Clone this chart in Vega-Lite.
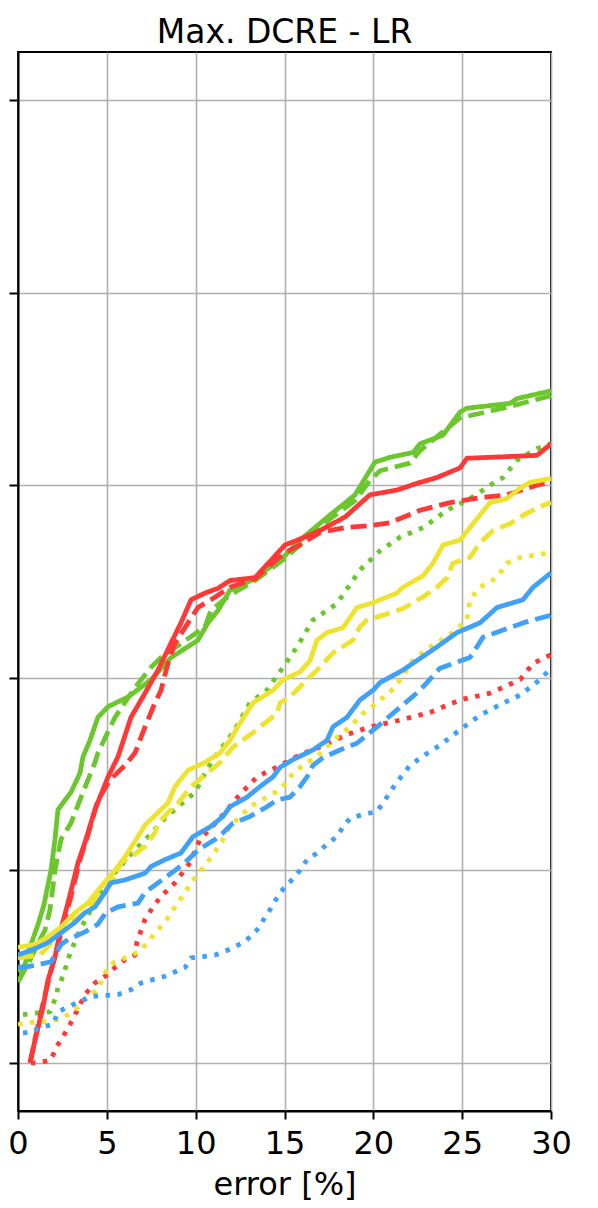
{
"$schema": "https://vega.github.io/schema/vega-lite/v6.json",
"autosize": {"type": "none"},
"width": 533,
"height": 1059,
"padding": {"left": 18, "top": 52, "right": 47, "bottom": 97},
"background": "white",
"title": {"text": "Max. DCRE - LR", "fontSize": 33, "font": "DejaVu Sans", "fontWeight": "normal", "color": "black", "anchor": "middle", "baseline": "alphabetic", "offset": -24},
"config": {
  "view": {"stroke": "black", "strokeWidth": 2},
  "axis": {"domainColor": "black", "domainWidth": 2, "tickColor": "black", "tickWidth": 2, "gridColor": "#b0b0b0", "gridWidth": 1.6, "gridOpacity": 1, "labelFont": "DejaVu Sans", "titleFont": "DejaVu Sans", "labelColor": "black", "titleColor": "black"}
},
"datasets": {
  "curves": [
{"method":"M1","style":"solid","error":0,"fraction":0.095},{"method":"M1","style":"solid","error":0.39,"fraction":0.102},{"method":"M1","style":"solid","error":0.73,"fraction":0.123},{"method":"M1","style":"solid","error":1.13,"fraction":0.144},{"method":"M1","style":"solid","error":1.46,"fraction":0.164},{"method":"M1","style":"solid","error":1.69,"fraction":0.185},{"method":"M1","style":"solid","error":1.86,"fraction":0.2},{"method":"M1","style":"solid","error":2.08,"fraction":0.232},{"method":"M1","style":"solid","error":2.25,"fraction":0.263},{"method":"M1","style":"solid","error":2.65,"fraction":0.273},{"method":"M1","style":"solid","error":2.98,"fraction":0.281},{"method":"M1","style":"solid","error":3.49,"fraction":0.301},{"method":"M1","style":"solid","error":3.66,"fraction":0.318},{"method":"M1","style":"solid","error":4.05,"fraction":0.335},{"method":"M1","style":"solid","error":4.5,"fraction":0.359},{"method":"M1","style":"solid","error":5.07,"fraction":0.37},{"method":"M1","style":"solid","error":6.19,"fraction":0.38},{"method":"M1","style":"solid","error":7.49,"fraction":0.398},{"method":"M1","style":"solid","error":8.61,"fraction":0.421},{"method":"M1","style":"solid","error":10.13,"fraction":0.439},{"method":"M1","style":"solid","error":10.69,"fraction":0.457},{"method":"M1","style":"solid","error":11.26,"fraction":0.47},{"method":"M1","style":"solid","error":11.93,"fraction":0.491},{"method":"M1","style":"solid","error":13.34,"fraction":0.503},{"method":"M1","style":"solid","error":15.03,"fraction":0.527},{"method":"M1","style":"solid","error":15.87,"fraction":0.543},{"method":"M1","style":"solid","error":17.56,"fraction":0.569},{"method":"M1","style":"solid","error":18.97,"fraction":0.59},{"method":"M1","style":"solid","error":20.09,"fraction":0.624},{"method":"M1","style":"solid","error":20.94,"fraction":0.629},{"method":"M1","style":"solid","error":22.23,"fraction":0.634},{"method":"M1","style":"solid","error":22.63,"fraction":0.643},{"method":"M1","style":"solid","error":23.92,"fraction":0.652},{"method":"M1","style":"solid","error":24.88,"fraction":0.676},{"method":"M1","style":"solid","error":25.27,"fraction":0.68},{"method":"M1","style":"solid","error":27.69,"fraction":0.685},{"method":"M1","style":"solid","error":28.09,"fraction":0.69},{"method":"M1","style":"solid","error":30,"fraction":0.698},
{"method":"M1","style":"dashed","error":0,"fraction":0.084},{"method":"M1","style":"dashed","error":0.68,"fraction":0.107},{"method":"M1","style":"dashed","error":1.24,"fraction":0.128},{"method":"M1","style":"dashed","error":1.52,"fraction":0.138},{"method":"M1","style":"dashed","error":1.8,"fraction":0.159},{"method":"M1","style":"dashed","error":2.08,"fraction":0.2},{"method":"M1","style":"dashed","error":2.42,"fraction":0.232},{"method":"M1","style":"dashed","error":2.98,"fraction":0.249},{"method":"M1","style":"dashed","error":3.55,"fraction":0.276},{"method":"M1","style":"dashed","error":4.33,"fraction":0.312},{"method":"M1","style":"dashed","error":4.5,"fraction":0.322},{"method":"M1","style":"dashed","error":5.46,"fraction":0.359},{"method":"M1","style":"dashed","error":6.59,"fraction":0.39},{"method":"M1","style":"dashed","error":7.49,"fraction":0.411},{"method":"M1","style":"dashed","error":8.05,"fraction":0.421},{"method":"M1","style":"dashed","error":10.53,"fraction":0.453},{"method":"M1","style":"dashed","error":10.86,"fraction":0.47},{"method":"M1","style":"dashed","error":11.93,"fraction":0.486},{"method":"M1","style":"dashed","error":13.34,"fraction":0.501},{"method":"M1","style":"dashed","error":15.03,"fraction":0.524},{"method":"M1","style":"dashed","error":15.87,"fraction":0.538},{"method":"M1","style":"dashed","error":17.56,"fraction":0.565},{"method":"M1","style":"dashed","error":18.97,"fraction":0.584},{"method":"M1","style":"dashed","error":19.81,"fraction":0.605},{"method":"M1","style":"dashed","error":20.38,"fraction":0.615},{"method":"M1","style":"dashed","error":22.06,"fraction":0.623},{"method":"M1","style":"dashed","error":22.63,"fraction":0.636},{"method":"M1","style":"dashed","error":24.88,"fraction":0.67},{"method":"M1","style":"dashed","error":27.3,"fraction":0.68},{"method":"M1","style":"dashed","error":30,"fraction":0.693},
{"method":"M1","style":"dotted","error":0.28,"fraction":0.05},{"method":"M1","style":"dotted","error":1.13,"fraction":0.052},{"method":"M1","style":"dotted","error":1.8,"fraction":0.053},{"method":"M1","style":"dotted","error":2.08,"fraction":0.066},{"method":"M1","style":"dotted","error":2.25,"fraction":0.078},{"method":"M1","style":"dotted","error":2.53,"fraction":0.09},{"method":"M1","style":"dotted","error":2.93,"fraction":0.114},{"method":"M1","style":"dotted","error":3.49,"fraction":0.138},{"method":"M1","style":"dotted","error":4.5,"fraction":0.173},{"method":"M1","style":"dotted","error":5.23,"fraction":0.193},{"method":"M1","style":"dotted","error":6.47,"fraction":0.219},{"method":"M1","style":"dotted","error":7.43,"fraction":0.237},{"method":"M1","style":"dotted","error":8.27,"fraction":0.254},{"method":"M1","style":"dotted","error":9.01,"fraction":0.266},{"method":"M1","style":"dotted","error":9.96,"fraction":0.281},{"method":"M1","style":"dotted","error":10.53,"fraction":0.301},{"method":"M1","style":"dotted","error":10.98,"fraction":0.315},{"method":"M1","style":"dotted","error":12.1,"fraction":0.343},{"method":"M1","style":"dotted","error":13.06,"fraction":0.374},{"method":"M1","style":"dotted","error":14.01,"fraction":0.387},{"method":"M1","style":"dotted","error":14.92,"fraction":0.411},{"method":"M1","style":"dotted","error":15.7,"fraction":0.432},{"method":"M1","style":"dotted","error":16.6,"fraction":0.46},{"method":"M1","style":"dotted","error":17.95,"fraction":0.477},{"method":"M1","style":"dotted","error":19.25,"fraction":0.512},{"method":"M1","style":"dotted","error":20.38,"fraction":0.532},{"method":"M1","style":"dotted","error":21.5,"fraction":0.546},{"method":"M1","style":"dotted","error":22.8,"fraction":0.556},{"method":"M1","style":"dotted","error":24.15,"fraction":0.574},{"method":"M1","style":"dotted","error":25.44,"fraction":0.586},{"method":"M1","style":"dotted","error":26.57,"fraction":0.6},{"method":"M1","style":"dotted","error":27.3,"fraction":0.608},{"method":"M1","style":"dotted","error":28.09,"fraction":0.626},{"method":"M1","style":"dotted","error":29.21,"fraction":0.638},{"method":"M1","style":"dotted","error":30,"fraction":0.643},
{"method":"M2","style":"solid","error":0.68,"fraction":0.0},{"method":"M2","style":"solid","error":0.96,"fraction":0.024},{"method":"M2","style":"solid","error":1.41,"fraction":0.058},{"method":"M2","style":"solid","error":1.69,"fraction":0.086},{"method":"M2","style":"solid","error":2.08,"fraction":0.11},{"method":"M2","style":"solid","error":2.36,"fraction":0.135},{"method":"M2","style":"solid","error":2.81,"fraction":0.166},{"method":"M2","style":"solid","error":3.38,"fraction":0.208},{"method":"M2","style":"solid","error":3.77,"fraction":0.229},{"method":"M2","style":"solid","error":4.33,"fraction":0.263},{"method":"M2","style":"solid","error":5.07,"fraction":0.297},{"method":"M2","style":"solid","error":5.63,"fraction":0.318},{"method":"M2","style":"solid","error":6.36,"fraction":0.359},{"method":"M2","style":"solid","error":7.15,"fraction":0.384},{"method":"M2","style":"solid","error":7.88,"fraction":0.408},{"method":"M2","style":"solid","error":8.61,"fraction":0.436},{"method":"M2","style":"solid","error":9.17,"fraction":0.457},{"method":"M2","style":"solid","error":9.74,"fraction":0.481},{"method":"M2","style":"solid","error":10.53,"fraction":0.488},{"method":"M2","style":"solid","error":11.26,"fraction":0.493},{"method":"M2","style":"solid","error":11.93,"fraction":0.501},{"method":"M2","style":"solid","error":13.34,"fraction":0.504},{"method":"M2","style":"solid","error":15.03,"fraction":0.538},{"method":"M2","style":"solid","error":15.87,"fraction":0.544},{"method":"M2","style":"solid","error":17.0,"fraction":0.553},{"method":"M2","style":"solid","error":18.41,"fraction":0.567},{"method":"M2","style":"solid","error":19.81,"fraction":0.59},{"method":"M2","style":"solid","error":21.33,"fraction":0.595},{"method":"M2","style":"solid","error":22.46,"fraction":0.602},{"method":"M2","style":"solid","error":23.58,"fraction":0.608},{"method":"M2","style":"solid","error":24.88,"fraction":0.618},{"method":"M2","style":"solid","error":25.27,"fraction":0.628},{"method":"M2","style":"solid","error":29.21,"fraction":0.631},{"method":"M2","style":"solid","error":30,"fraction":0.643},
{"method":"M2","style":"dashed","error":0.68,"fraction":0.0},{"method":"M2","style":"dashed","error":1.01,"fraction":0.029},{"method":"M2","style":"dashed","error":1.46,"fraction":0.066},{"method":"M2","style":"dashed","error":1.8,"fraction":0.092},{"method":"M2","style":"dashed","error":2.2,"fraction":0.118},{"method":"M2","style":"dashed","error":2.53,"fraction":0.144},{"method":"M2","style":"dashed","error":2.93,"fraction":0.169},{"method":"M2","style":"dashed","error":3.49,"fraction":0.211},{"method":"M2","style":"dashed","error":3.94,"fraction":0.237},{"method":"M2","style":"dashed","error":4.5,"fraction":0.273},{"method":"M2","style":"dashed","error":5.18,"fraction":0.294},{"method":"M2","style":"dashed","error":6.02,"fraction":0.309},{"method":"M2","style":"dashed","error":6.59,"fraction":0.322},{"method":"M2","style":"dashed","error":7.15,"fraction":0.349},{"method":"M2","style":"dashed","error":7.71,"fraction":0.374},{"method":"M2","style":"dashed","error":8.05,"fraction":0.387},{"method":"M2","style":"dashed","error":8.44,"fraction":0.415},{"method":"M2","style":"dashed","error":8.84,"fraction":0.436},{"method":"M2","style":"dashed","error":9.57,"fraction":0.457},{"method":"M2","style":"dashed","error":10.13,"fraction":0.473},{"method":"M2","style":"dashed","error":10.86,"fraction":0.481},{"method":"M2","style":"dashed","error":11.93,"fraction":0.494},{"method":"M2","style":"dashed","error":13.34,"fraction":0.503},{"method":"M2","style":"dashed","error":15.03,"fraction":0.53},{"method":"M2","style":"dashed","error":15.87,"fraction":0.538},{"method":"M2","style":"dashed","error":17.0,"fraction":0.551},{"method":"M2","style":"dashed","error":18.41,"fraction":0.556},{"method":"M2","style":"dashed","error":19.81,"fraction":0.558},{"method":"M2","style":"dashed","error":20.94,"fraction":0.561},{"method":"M2","style":"dashed","error":22.63,"fraction":0.574},{"method":"M2","style":"dashed","error":24.32,"fraction":0.582},{"method":"M2","style":"dashed","error":26.0,"fraction":0.587},{"method":"M2","style":"dashed","error":27.52,"fraction":0.59},{"method":"M2","style":"dashed","error":29.21,"fraction":0.6},{"method":"M2","style":"dashed","error":30,"fraction":0.603},
{"method":"M2","style":"dotted","error":0.73,"fraction":0.0},{"method":"M2","style":"dotted","error":1.13,"fraction":0.0},{"method":"M2","style":"dotted","error":1.86,"fraction":0.003},{"method":"M2","style":"dotted","error":2.14,"fraction":0.016},{"method":"M2","style":"dotted","error":2.53,"fraction":0.027},{"method":"M2","style":"dotted","error":2.93,"fraction":0.04},{"method":"M2","style":"dotted","error":3.21,"fraction":0.05},{"method":"M2","style":"dotted","error":3.77,"fraction":0.071},{"method":"M2","style":"dotted","error":4.33,"fraction":0.083},{"method":"M2","style":"dotted","error":4.9,"fraction":0.09},{"method":"M2","style":"dotted","error":5.46,"fraction":0.099},{"method":"M2","style":"dotted","error":6.02,"fraction":0.107},{"method":"M2","style":"dotted","error":6.59,"fraction":0.112},{"method":"M2","style":"dotted","error":6.7,"fraction":0.126},{"method":"M2","style":"dotted","error":7.15,"fraction":0.149},{"method":"M2","style":"dotted","error":7.6,"fraction":0.162},{"method":"M2","style":"dotted","error":8.05,"fraction":0.173},{"method":"M2","style":"dotted","error":8.84,"fraction":0.187},{"method":"M2","style":"dotted","error":9.68,"fraction":0.208},{"method":"M2","style":"dotted","error":10.24,"fraction":0.232},{"method":"M2","style":"dotted","error":11.37,"fraction":0.254},{"method":"M2","style":"dotted","error":12.5,"fraction":0.279},{"method":"M2","style":"dotted","error":13.45,"fraction":0.297},{"method":"M2","style":"dotted","error":14.75,"fraction":0.309},{"method":"M2","style":"dotted","error":15.87,"fraction":0.32},{"method":"M2","style":"dotted","error":17.0,"fraction":0.328},{"method":"M2","style":"dotted","error":18.52,"fraction":0.341},{"method":"M2","style":"dotted","error":19.81,"fraction":0.349},{"method":"M2","style":"dotted","error":21.5,"fraction":0.356},{"method":"M2","style":"dotted","error":23.19,"fraction":0.364},{"method":"M2","style":"dotted","error":24.88,"fraction":0.377},{"method":"M2","style":"dotted","error":26.57,"fraction":0.384},{"method":"M2","style":"dotted","error":28.26,"fraction":0.398},{"method":"M2","style":"dotted","error":28.99,"fraction":0.415},{"method":"M2","style":"dotted","error":30,"fraction":0.424},
{"method":"M3","style":"solid","error":0,"fraction":0.12},{"method":"M3","style":"solid","error":0.96,"fraction":0.123},{"method":"M3","style":"solid","error":1.69,"fraction":0.131},{"method":"M3","style":"solid","error":2.42,"fraction":0.141},{"method":"M3","style":"solid","error":3.21,"fraction":0.156},{"method":"M3","style":"solid","error":3.94,"fraction":0.166},{"method":"M3","style":"solid","error":4.67,"fraction":0.183},{"method":"M3","style":"solid","error":5.46,"fraction":0.2},{"method":"M3","style":"solid","error":6.02,"fraction":0.214},{"method":"M3","style":"solid","error":6.75,"fraction":0.235},{"method":"M3","style":"solid","error":7.15,"fraction":0.247},{"method":"M3","style":"solid","error":7.88,"fraction":0.26},{"method":"M3","style":"solid","error":8.44,"fraction":0.27},{"method":"M3","style":"solid","error":8.84,"fraction":0.287},{"method":"M3","style":"solid","error":9.57,"fraction":0.304},{"method":"M3","style":"solid","error":10.53,"fraction":0.312},{"method":"M3","style":"solid","error":11.37,"fraction":0.322},{"method":"M3","style":"solid","error":11.93,"fraction":0.335},{"method":"M3","style":"solid","error":12.5,"fraction":0.353},{"method":"M3","style":"solid","error":13.23,"fraction":0.374},{"method":"M3","style":"solid","error":14.35,"fraction":0.387},{"method":"M3","style":"solid","error":14.92,"fraction":0.398},{"method":"M3","style":"solid","error":15.87,"fraction":0.406},{"method":"M3","style":"solid","error":16.44,"fraction":0.418},{"method":"M3","style":"solid","error":16.83,"fraction":0.439},{"method":"M3","style":"solid","error":17.39,"fraction":0.447},{"method":"M3","style":"solid","error":18.29,"fraction":0.452},{"method":"M3","style":"solid","error":19.08,"fraction":0.473},{"method":"M3","style":"solid","error":19.98,"fraction":0.478},{"method":"M3","style":"solid","error":21.33,"fraction":0.488},{"method":"M3","style":"solid","error":21.67,"fraction":0.494},{"method":"M3","style":"solid","error":22.8,"fraction":0.506},{"method":"M3","style":"solid","error":23.36,"fraction":0.519},{"method":"M3","style":"solid","error":23.92,"fraction":0.538},{"method":"M3","style":"solid","error":24.88,"fraction":0.543},{"method":"M3","style":"solid","error":25.44,"fraction":0.556},{"method":"M3","style":"solid","error":26.0,"fraction":0.569},{"method":"M3","style":"solid","error":26.57,"fraction":0.582},{"method":"M3","style":"solid","error":27.52,"fraction":0.586},{"method":"M3","style":"solid","error":28.26,"fraction":0.597},{"method":"M3","style":"solid","error":28.82,"fraction":0.603},{"method":"M3","style":"solid","error":30,"fraction":0.607},
{"method":"M3","style":"dashed","error":0,"fraction":0.109},{"method":"M3","style":"dashed","error":1.24,"fraction":0.112},{"method":"M3","style":"dashed","error":1.8,"fraction":0.123},{"method":"M3","style":"dashed","error":2.42,"fraction":0.138},{"method":"M3","style":"dashed","error":3.21,"fraction":0.149},{"method":"M3","style":"dashed","error":3.77,"fraction":0.156},{"method":"M3","style":"dashed","error":4.33,"fraction":0.169},{"method":"M3","style":"dashed","error":5.07,"fraction":0.183},{"method":"M3","style":"dashed","error":5.46,"fraction":0.193},{"method":"M3","style":"dashed","error":5.8,"fraction":0.208},{"method":"M3","style":"dashed","error":6.36,"fraction":0.214},{"method":"M3","style":"dashed","error":7.15,"fraction":0.225},{"method":"M3","style":"dashed","error":7.71,"fraction":0.239},{"method":"M3","style":"dashed","error":7.88,"fraction":0.249},{"method":"M3","style":"dashed","error":8.44,"fraction":0.26},{"method":"M3","style":"dashed","error":9.01,"fraction":0.27},{"method":"M3","style":"dashed","error":9.74,"fraction":0.287},{"method":"M3","style":"dashed","error":10.53,"fraction":0.299},{"method":"M3","style":"dashed","error":11.37,"fraction":0.312},{"method":"M3","style":"dashed","error":12.1,"fraction":0.328},{"method":"M3","style":"dashed","error":13.23,"fraction":0.343},{"method":"M3","style":"dashed","error":14.58,"fraction":0.363},{"method":"M3","style":"dashed","error":14.75,"fraction":0.374},{"method":"M3","style":"dashed","error":15.31,"fraction":0.38},{"method":"M3","style":"dashed","error":16.27,"fraction":0.398},{"method":"M3","style":"dashed","error":17.0,"fraction":0.411},{"method":"M3","style":"dashed","error":17.73,"fraction":0.426},{"method":"M3","style":"dashed","error":18.86,"fraction":0.439},{"method":"M3","style":"dashed","error":19.25,"fraction":0.453},{"method":"M3","style":"dashed","error":19.64,"fraction":0.46},{"method":"M3","style":"dashed","error":20.21,"fraction":0.463},{"method":"M3","style":"dashed","error":21.67,"fraction":0.472},{"method":"M3","style":"dashed","error":22.8,"fraction":0.484},{"method":"M3","style":"dashed","error":23.58,"fraction":0.494},{"method":"M3","style":"dashed","error":24.15,"fraction":0.504},{"method":"M3","style":"dashed","error":24.48,"fraction":0.519},{"method":"M3","style":"dashed","error":25.44,"fraction":0.525},{"method":"M3","style":"dashed","error":26.0,"fraction":0.54},{"method":"M3","style":"dashed","error":26.74,"fraction":0.553},{"method":"M3","style":"dashed","error":27.69,"fraction":0.56},{"method":"M3","style":"dashed","error":28.65,"fraction":0.571},{"method":"M3","style":"dashed","error":29.55,"fraction":0.579},{"method":"M3","style":"dashed","error":30,"fraction":0.582},
{"method":"M3","style":"dotted","error":0,"fraction":0.04},{"method":"M3","style":"dotted","error":0.56,"fraction":0.042},{"method":"M3","style":"dotted","error":1.52,"fraction":0.043},{"method":"M3","style":"dotted","error":2.25,"fraction":0.045},{"method":"M3","style":"dotted","error":2.81,"fraction":0.05},{"method":"M3","style":"dotted","error":3.38,"fraction":0.058},{"method":"M3","style":"dotted","error":3.94,"fraction":0.069},{"method":"M3","style":"dotted","error":4.5,"fraction":0.076},{"method":"M3","style":"dotted","error":5.07,"fraction":0.1},{"method":"M3","style":"dotted","error":5.46,"fraction":0.105},{"method":"M3","style":"dotted","error":6.19,"fraction":0.11},{"method":"M3","style":"dotted","error":6.75,"fraction":0.115},{"method":"M3","style":"dotted","error":7.32,"fraction":0.125},{"method":"M3","style":"dotted","error":7.71,"fraction":0.135},{"method":"M3","style":"dotted","error":8.27,"fraction":0.146},{"method":"M3","style":"dotted","error":8.84,"fraction":0.162},{"method":"M3","style":"dotted","error":9.4,"fraction":0.177},{"method":"M3","style":"dotted","error":9.74,"fraction":0.187},{"method":"M3","style":"dotted","error":10.3,"fraction":0.2},{"method":"M3","style":"dotted","error":10.86,"fraction":0.213},{"method":"M3","style":"dotted","error":11.54,"fraction":0.232},{"method":"M3","style":"dotted","error":11.93,"fraction":0.245},{"method":"M3","style":"dotted","error":12.5,"fraction":0.256},{"method":"M3","style":"dotted","error":13.06,"fraction":0.266},{"method":"M3","style":"dotted","error":14.01,"fraction":0.276},{"method":"M3","style":"dotted","error":14.75,"fraction":0.284},{"method":"M3","style":"dotted","error":15.14,"fraction":0.292},{"method":"M3","style":"dotted","error":15.48,"fraction":0.301},{"method":"M3","style":"dotted","error":16.27,"fraction":0.312},{"method":"M3","style":"dotted","error":16.83,"fraction":0.318},{"method":"M3","style":"dotted","error":17.17,"fraction":0.325},{"method":"M3","style":"dotted","error":17.95,"fraction":0.338},{"method":"M3","style":"dotted","error":18.69,"fraction":0.349},{"method":"M3","style":"dotted","error":19.42,"fraction":0.363},{"method":"M3","style":"dotted","error":20.21,"fraction":0.374},{"method":"M3","style":"dotted","error":21.22,"fraction":0.39},{"method":"M3","style":"dotted","error":22.23,"fraction":0.418},{"method":"M3","style":"dotted","error":23.19,"fraction":0.432},{"method":"M3","style":"dotted","error":24.48,"fraction":0.447},{"method":"M3","style":"dotted","error":25.27,"fraction":0.46},{"method":"M3","style":"dotted","error":25.44,"fraction":0.481},{"method":"M3","style":"dotted","error":26.0,"fraction":0.494},{"method":"M3","style":"dotted","error":26.96,"fraction":0.504},{"method":"M3","style":"dotted","error":27.52,"fraction":0.519},{"method":"M3","style":"dotted","error":28.26,"fraction":0.525},{"method":"M3","style":"dotted","error":30,"fraction":0.53},
{"method":"M4","style":"solid","error":0,"fraction":0.112},{"method":"M4","style":"solid","error":1.13,"fraction":0.12},{"method":"M4","style":"solid","error":1.69,"fraction":0.125},{"method":"M4","style":"solid","error":2.42,"fraction":0.135},{"method":"M4","style":"solid","error":3.21,"fraction":0.146},{"method":"M4","style":"solid","error":3.77,"fraction":0.156},{"method":"M4","style":"solid","error":4.33,"fraction":0.162},{"method":"M4","style":"solid","error":4.9,"fraction":0.177},{"method":"M4","style":"solid","error":5.23,"fraction":0.187},{"method":"M4","style":"solid","error":6.02,"fraction":0.19},{"method":"M4","style":"solid","error":7.15,"fraction":0.197},{"method":"M4","style":"solid","error":7.49,"fraction":0.204},{"method":"M4","style":"solid","error":8.27,"fraction":0.211},{"method":"M4","style":"solid","error":9.17,"fraction":0.218},{"method":"M4","style":"solid","error":9.85,"fraction":0.235},{"method":"M4","style":"solid","error":10.81,"fraction":0.245},{"method":"M4","style":"solid","error":11.54,"fraction":0.256},{"method":"M4","style":"solid","error":11.93,"fraction":0.266},{"method":"M4","style":"solid","error":12.89,"fraction":0.276},{"method":"M4","style":"solid","error":13.62,"fraction":0.287},{"method":"M4","style":"solid","error":14.35,"fraction":0.297},{"method":"M4","style":"solid","error":14.75,"fraction":0.307},{"method":"M4","style":"solid","error":15.48,"fraction":0.315},{"method":"M4","style":"solid","error":16.6,"fraction":0.325},{"method":"M4","style":"solid","error":17.39,"fraction":0.335},{"method":"M4","style":"solid","error":17.73,"fraction":0.349},{"method":"M4","style":"solid","error":18.52,"fraction":0.359},{"method":"M4","style":"solid","error":19.25,"fraction":0.377},{"method":"M4","style":"solid","error":19.98,"fraction":0.387},{"method":"M4","style":"solid","error":20.38,"fraction":0.395},{"method":"M4","style":"solid","error":21.67,"fraction":0.408},{"method":"M4","style":"solid","error":23.58,"fraction":0.432},{"method":"M4","style":"solid","error":24.71,"fraction":0.447},{"method":"M4","style":"solid","error":26.0,"fraction":0.457},{"method":"M4","style":"solid","error":26.96,"fraction":0.473},{"method":"M4","style":"solid","error":28.42,"fraction":0.481},{"method":"M4","style":"solid","error":28.99,"fraction":0.494},{"method":"M4","style":"solid","error":30,"fraction":0.509},
{"method":"M4","style":"dashed","error":0,"fraction":0.099},{"method":"M4","style":"dashed","error":0.56,"fraction":0.1},{"method":"M4","style":"dashed","error":1.13,"fraction":0.102},{"method":"M4","style":"dashed","error":1.86,"fraction":0.105},{"method":"M4","style":"dashed","error":2.42,"fraction":0.123},{"method":"M4","style":"dashed","error":2.81,"fraction":0.128},{"method":"M4","style":"dashed","error":3.77,"fraction":0.136},{"method":"M4","style":"dashed","error":4.5,"fraction":0.144},{"method":"M4","style":"dashed","error":4.95,"fraction":0.156},{"method":"M4","style":"dashed","error":5.63,"fraction":0.162},{"method":"M4","style":"dashed","error":6.75,"fraction":0.166},{"method":"M4","style":"dashed","error":7.15,"fraction":0.177},{"method":"M4","style":"dashed","error":7.88,"fraction":0.187},{"method":"M4","style":"dashed","error":8.84,"fraction":0.2},{"method":"M4","style":"dashed","error":9.4,"fraction":0.208},{"method":"M4","style":"dashed","error":10.13,"fraction":0.221},{"method":"M4","style":"dashed","error":11.09,"fraction":0.232},{"method":"M4","style":"dashed","error":11.54,"fraction":0.239},{"method":"M4","style":"dashed","error":12.1,"fraction":0.249},{"method":"M4","style":"dashed","error":13.06,"fraction":0.256},{"method":"M4","style":"dashed","error":14.01,"fraction":0.266},{"method":"M4","style":"dashed","error":14.58,"fraction":0.273},{"method":"M4","style":"dashed","error":15.31,"fraction":0.276},{"method":"M4","style":"dashed","error":15.87,"fraction":0.287},{"method":"M4","style":"dashed","error":16.27,"fraction":0.297},{"method":"M4","style":"dashed","error":16.6,"fraction":0.309},{"method":"M4","style":"dashed","error":17.17,"fraction":0.317},{"method":"M4","style":"dashed","error":18.12,"fraction":0.325},{"method":"M4","style":"dashed","error":19.08,"fraction":0.332},{"method":"M4","style":"dashed","error":19.81,"fraction":0.343},{"method":"M4","style":"dashed","error":20.21,"fraction":0.349},{"method":"M4","style":"dashed","error":21.67,"fraction":0.372},{"method":"M4","style":"dashed","error":22.63,"fraction":0.387},{"method":"M4","style":"dashed","error":23.75,"fraction":0.41},{"method":"M4","style":"dashed","error":25.44,"fraction":0.421},{"method":"M4","style":"dashed","error":26.17,"fraction":0.442},{"method":"M4","style":"dashed","error":28.42,"fraction":0.457},{"method":"M4","style":"dashed","error":30,"fraction":0.465},
{"method":"M4","style":"dotted","error":0.28,"fraction":0.031},{"method":"M4","style":"dotted","error":0.73,"fraction":0.032},{"method":"M4","style":"dotted","error":1.29,"fraction":0.037},{"method":"M4","style":"dotted","error":1.97,"fraction":0.04},{"method":"M4","style":"dotted","error":2.25,"fraction":0.053},{"method":"M4","style":"dotted","error":2.81,"fraction":0.058},{"method":"M4","style":"dotted","error":3.38,"fraction":0.063},{"method":"M4","style":"dotted","error":4.11,"fraction":0.069},{"method":"M4","style":"dotted","error":5.63,"fraction":0.071},{"method":"M4","style":"dotted","error":6.36,"fraction":0.076},{"method":"M4","style":"dotted","error":6.92,"fraction":0.083},{"method":"M4","style":"dotted","error":8.27,"fraction":0.09},{"method":"M4","style":"dotted","error":9.4,"fraction":0.099},{"method":"M4","style":"dotted","error":9.74,"fraction":0.109},{"method":"M4","style":"dotted","error":11.09,"fraction":0.112},{"method":"M4","style":"dotted","error":11.93,"fraction":0.118},{"method":"M4","style":"dotted","error":12.78,"fraction":0.126},{"method":"M4","style":"dotted","error":13.45,"fraction":0.138},{"method":"M4","style":"dotted","error":14.18,"fraction":0.159},{"method":"M4","style":"dotted","error":14.75,"fraction":0.177},{"method":"M4","style":"dotted","error":15.31,"fraction":0.188},{"method":"M4","style":"dotted","error":15.87,"fraction":0.2},{"method":"M4","style":"dotted","error":16.27,"fraction":0.211},{"method":"M4","style":"dotted","error":16.83,"fraction":0.218},{"method":"M4","style":"dotted","error":17.39,"fraction":0.227},{"method":"M4","style":"dotted","error":17.95,"fraction":0.235},{"method":"M4","style":"dotted","error":18.29,"fraction":0.245},{"method":"M4","style":"dotted","error":18.69,"fraction":0.254},{"method":"M4","style":"dotted","error":19.42,"fraction":0.258},{"method":"M4","style":"dotted","error":20.21,"fraction":0.261},{"method":"M4","style":"dotted","error":20.66,"fraction":0.273},{"method":"M4","style":"dotted","error":21.22,"fraction":0.289},{"method":"M4","style":"dotted","error":22.06,"fraction":0.309},{"method":"M4","style":"dotted","error":22.91,"fraction":0.32},{"method":"M4","style":"dotted","error":23.75,"fraction":0.33},{"method":"M4","style":"dotted","error":24.88,"fraction":0.346},{"method":"M4","style":"dotted","error":26.0,"fraction":0.361},{"method":"M4","style":"dotted","error":27.13,"fraction":0.372},{"method":"M4","style":"dotted","error":28.26,"fraction":0.382},{"method":"M4","style":"dotted","error":29.38,"fraction":0.398},{"method":"M4","style":"dotted","error":30,"fraction":0.41}
  ]
},
"data": {"name": "curves"},
"mark": {"type": "line", "strokeWidth": 4.8, "strokeCap": "butt", "strokeJoin": "round", "interpolate": "linear", "clip": true},
"encoding": {
  "x": {"field": "error", "type": "quantitative", "scale": {"domain": [0, 30], "nice": false, "zero": false},
        "axis": {"title": "error [%]", "values": [0, 5, 10, 15, 20, 25, 30], "format": "d", "grid": true, "tickSize": 8, "labelFontSize": 32, "labelPadding": 9, "titleFontSize": 32, "titleFontWeight": "normal", "titlePadding": 10, "labelFlush": false}},
  "y": {"field": "fraction", "type": "quantitative", "scale": {"domain": [-0.05, 1.05], "nice": false, "zero": false},
        "axis": {"title": null, "values": [0, 0.2, 0.4, 0.6, 0.8, 1.0], "labels": false, "grid": true, "tickSize": 9}},
  "color": {"field": "method", "type": "nominal", "scale": {"domain": ["M1", "M2", "M3", "M4"], "range": ["#6cc62d", "#ff3838", "#eee330", "#41a1f8"]}, "legend": null},
  "strokeDash": {"field": "style", "type": "nominal", "scale": {"domain": ["solid", "dashed", "dotted"], "range": [[1, 0], [16, 7], [4.5, 7.5]]}, "legend": null}
}
}
